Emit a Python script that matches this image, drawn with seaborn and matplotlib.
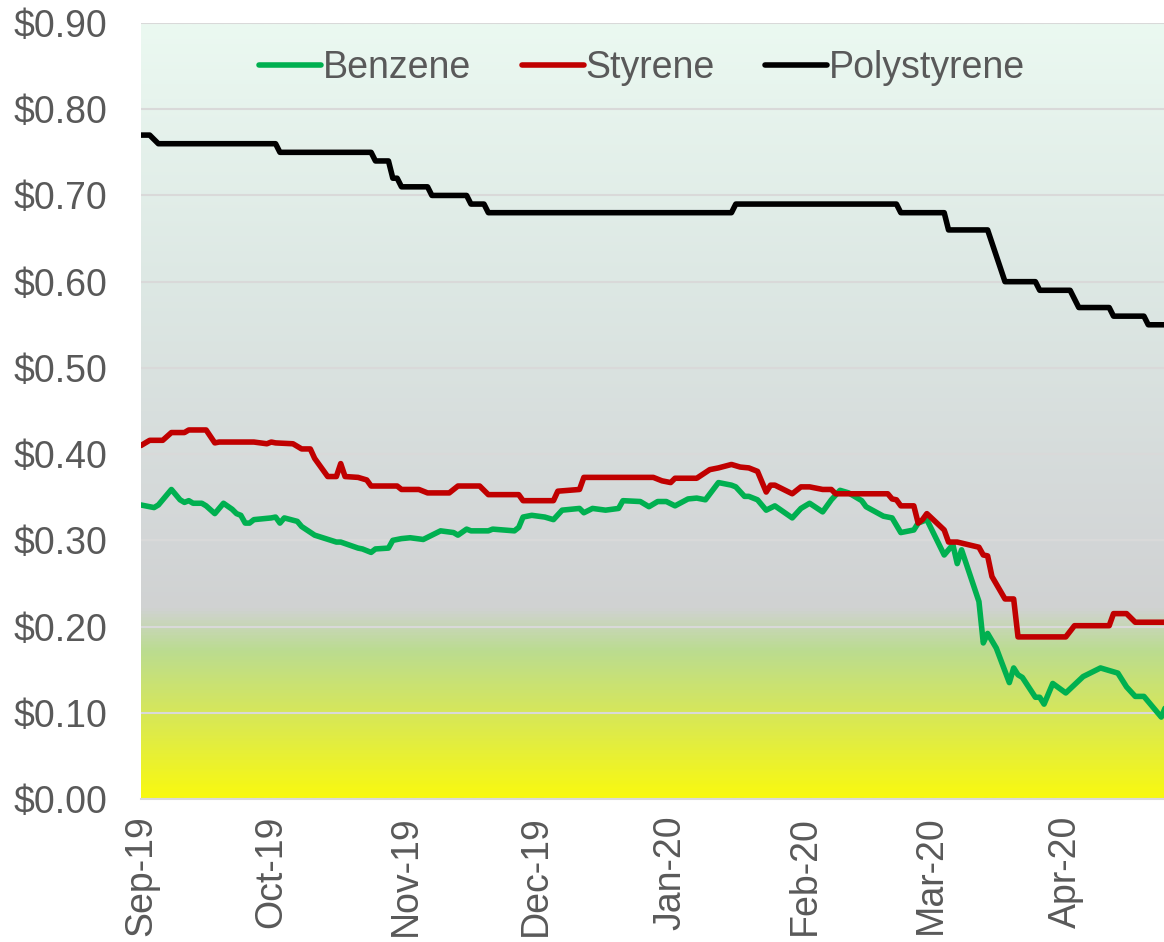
import numpy as np
import pandas as pd
import seaborn as sns
import matplotlib.pyplot as plt
import matplotlib.dates as mdates
from matplotlib.colors import LinearSegmentedColormap
from matplotlib.ticker import FuncFormatter

# Benzene ($/lb)
benzene_dates = ['2019-09-01', '2019-09-04', '2019-09-05', '2019-09-08', '2019-09-10', '2019-09-11',
                 '2019-09-12', '2019-09-13', '2019-09-15', '2019-09-16', '2019-09-18', '2019-09-20',
                 '2019-09-22', '2019-09-23', '2019-09-24', '2019-09-25', '2019-09-26', '2019-09-27',
                 '2019-10-01', '2019-10-02', '2019-10-03', '2019-10-04', '2019-10-07', '2019-10-08',
                 '2019-10-11', '2019-10-16', '2019-10-17', '2019-10-21', '2019-10-22', '2019-10-24',
                 '2019-10-25', '2019-10-28', '2019-10-29', '2019-10-31', '2019-11-02', '2019-11-05',
                 '2019-11-09', '2019-11-12', '2019-11-13', '2019-11-15', '2019-11-16', '2019-11-20',
                 '2019-11-21', '2019-11-26', '2019-11-27', '2019-11-28', '2019-11-30', '2019-12-03',
                 '2019-12-05', '2019-12-07', '2019-12-11', '2019-12-12', '2019-12-14', '2019-12-17',
                 '2019-12-20', '2019-12-21', '2019-12-25', '2019-12-27', '2019-12-29', '2019-12-31',
                 '2020-01-02', '2020-01-05', '2020-01-07', '2020-01-09', '2020-01-12', '2020-01-15',
                 '2020-01-16', '2020-01-18', '2020-01-19', '2020-01-21', '2020-01-23', '2020-01-25',
                 '2020-01-29', '2020-01-31', '2020-02-02', '2020-02-05', '2020-02-07', '2020-02-09',
                 '2020-02-11', '2020-02-14', '2020-02-15', '2020-02-19', '2020-02-21', '2020-02-23',
                 '2020-02-26', '2020-02-27', '2020-02-29', '2020-03-04', '2020-03-06', '2020-03-07',
                 '2020-03-08', '2020-03-12', '2020-03-13', '2020-03-14', '2020-03-16', '2020-03-19',
                 '2020-03-20', '2020-03-21', '2020-03-22', '2020-03-25', '2020-03-26', '2020-03-27',
                 '2020-03-29', '2020-04-01', '2020-04-05', '2020-04-09', '2020-04-13', '2020-04-15',
                 '2020-04-17', '2020-04-19', '2020-04-23', '2020-04-24']
benzene = [0.341, 0.338, 0.341, 0.359, 0.347, 0.344,
           0.346, 0.343, 0.343, 0.340, 0.331, 0.343,
           0.336, 0.331, 0.329, 0.320, 0.320, 0.324,
           0.326, 0.327, 0.320, 0.326, 0.322, 0.316,
           0.306, 0.298, 0.298, 0.291, 0.290, 0.286,
           0.290, 0.291, 0.300, 0.302, 0.303, 0.301,
           0.311, 0.309, 0.306, 0.313, 0.311, 0.311,
           0.313, 0.311, 0.315, 0.327, 0.329, 0.327,
           0.324, 0.335, 0.337, 0.332, 0.337, 0.335,
           0.337, 0.346, 0.345, 0.339, 0.345, 0.345,
           0.340, 0.348, 0.349, 0.347, 0.367, 0.364,
           0.362, 0.351, 0.351, 0.347, 0.335, 0.340,
           0.326, 0.337, 0.343, 0.333, 0.347, 0.358,
           0.355, 0.346, 0.339, 0.328, 0.326, 0.309,
           0.312, 0.320, 0.324, 0.283, 0.295, 0.273,
           0.289, 0.229, 0.181, 0.192, 0.175, 0.135,
           0.152, 0.144, 0.141, 0.118, 0.118, 0.110,
           0.134, 0.123, 0.142, 0.152, 0.146, 0.130,
           0.119, 0.119, 0.095, 0.107]

# Styrene
styrene_dates = ['2019-09-01', '2019-09-03', '2019-09-06', '2019-09-08', '2019-09-11', '2019-09-12',
                 '2019-09-16', '2019-09-18', '2019-09-19', '2019-09-27', '2019-09-30', '2019-10-01',
                 '2019-10-02', '2019-10-06', '2019-10-08', '2019-10-10', '2019-10-11', '2019-10-14',
                 '2019-10-16', '2019-10-17', '2019-10-18', '2019-10-21', '2019-10-23', '2019-10-24',
                 '2019-10-30', '2019-10-31', '2019-11-04', '2019-11-06', '2019-11-11', '2019-11-13',
                 '2019-11-18', '2019-11-20', '2019-11-27', '2019-11-28', '2019-12-05', '2019-12-06',
                 '2019-12-11', '2019-12-12', '2019-12-28', '2019-12-30', '2020-01-01', '2020-01-02',
                 '2020-01-07', '2020-01-10', '2020-01-12', '2020-01-15', '2020-01-17', '2020-01-19',
                 '2020-01-21', '2020-01-23', '2020-01-24', '2020-01-25', '2020-01-29', '2020-01-31',
                 '2020-02-02', '2020-02-05', '2020-02-07', '2020-02-08', '2020-02-20', '2020-02-21',
                 '2020-02-22', '2020-02-23', '2020-02-26', '2020-02-27', '2020-02-28', '2020-02-29',
                 '2020-03-04', '2020-03-05', '2020-03-07', '2020-03-12', '2020-03-13', '2020-03-14',
                 '2020-03-15', '2020-03-18', '2020-03-20', '2020-03-21', '2020-04-01', '2020-04-03',
                 '2020-04-11', '2020-04-12', '2020-04-15', '2020-04-17', '2020-04-24']
styrene = [0.410, 0.416, 0.416, 0.425, 0.425, 0.428,
           0.428, 0.413, 0.414, 0.414, 0.412, 0.414,
           0.413, 0.412, 0.406, 0.406, 0.395, 0.374,
           0.374, 0.389, 0.374, 0.373, 0.370, 0.363,
           0.363, 0.359, 0.359, 0.355, 0.355, 0.363,
           0.363, 0.353, 0.353, 0.346, 0.346, 0.357,
           0.359, 0.373, 0.373, 0.369, 0.367, 0.372,
           0.372, 0.382, 0.384, 0.388, 0.385, 0.384,
           0.380, 0.356, 0.364, 0.364, 0.354, 0.362,
           0.362, 0.359, 0.359, 0.354, 0.354, 0.348,
           0.347, 0.340, 0.340, 0.320, 0.324, 0.331,
           0.312, 0.298, 0.298, 0.292, 0.283, 0.282,
           0.258, 0.232, 0.232, 0.188, 0.188, 0.201,
           0.201, 0.215, 0.215, 0.205, 0.205]

# Polystyrene
poly_dates = ['2019-09-01', '2019-09-03', '2019-09-05', '2019-10-02', '2019-10-03', '2019-10-24',
              '2019-10-25', '2019-10-28', '2019-10-29', '2019-10-30', '2019-10-31', '2019-11-06',
              '2019-11-07', '2019-11-15', '2019-11-16', '2019-11-19', '2019-11-20', '2020-01-15',
              '2020-01-16', '2020-02-22', '2020-02-23', '2020-03-04', '2020-03-05', '2020-03-14',
              '2020-03-18', '2020-03-25', '2020-03-26', '2020-04-02', '2020-04-04', '2020-04-11',
              '2020-04-12', '2020-04-19', '2020-04-20', '2020-04-24']
polystyrene = [0.77, 0.77, 0.76, 0.76, 0.75, 0.75,
               0.74, 0.74, 0.72, 0.72, 0.71, 0.71,
               0.70, 0.70, 0.69, 0.69, 0.68, 0.68,
               0.69, 0.69, 0.68, 0.68, 0.66, 0.66,
               0.60, 0.60, 0.59, 0.59, 0.57, 0.57,
               0.56, 0.56, 0.55, 0.55]

names = ['Benzene', 'Styrene', 'Polystyrene']
colors = ['#00B050', '#C00000', '#000000']

df = pd.concat([
    pd.DataFrame({'date': pd.to_datetime(d), 'price': v, 'product': n})
    for d, v, n in [(benzene_dates, benzene, 'Benzene'),
                    (styrene_dates, styrene, 'Styrene'),
                    (poly_dates, polystyrene, 'Polystyrene')]
])

sns.set_style('white')
plt.rcParams['font.family'] = ['Liberation Sans', 'DejaVu Sans']

W, H = 1164, 942
fig = plt.figure(figsize=(W / 100, H / 100), dpi=100)
pos = [141 / W, 1 - 799 / H, (1164 - 141) / W, (799 - 23) / H]

# gradient fill behind the plot area (bottom yellow -> grey -> pale mint top)
grad = LinearSegmentedColormap.from_list('bg', [
    (0.0, '#F9F90F'),
    (0.11, '#D6E75A'),
    (0.19, '#BBDC90'),
    (0.245, '#D0D2D2'),
    (0.33, '#D3D6D7'),
    (0.667, '#DDE8E4'),
    (1.0, '#EBF9F1'),
])
bg = fig.add_axes(pos, zorder=0)
bg.imshow(np.linspace(0, 1, 512).reshape(-1, 1), cmap=grad, origin='lower',
          aspect='auto', extent=[0, 1, 0, 1])
bg.axis('off')

ax = fig.add_axes(pos, zorder=1)
ax.set_facecolor('none')
sns.lineplot(data=df, x='date', y='price', hue='product', hue_order=names,
             palette=colors, estimator=None, linewidth=4, ax=ax)

ax.set_ylim(0, 0.9)
ax.set_yticks(np.arange(0, 0.91, 0.1))
ax.yaxis.set_major_formatter(FuncFormatter(lambda v, p: f'${v:.2f}'))
ax.set_xlim(pd.Timestamp('2019-09-01'), pd.Timestamp('2020-04-23 15:00'))
ax.xaxis.set_major_locator(mdates.MonthLocator())
ax.xaxis.set_major_formatter(mdates.DateFormatter('%b-%y'))
ax.grid(axis='y', color='#D9D9D9', linewidth=1.5)
ax.set_axisbelow(True)

for s in ['top', 'right', 'left']:
    ax.spines[s].set_visible(False)
ax.spines['bottom'].set_color('#D9D9D9')
ax.spines['bottom'].set_linewidth(1.5)

ax.tick_params(axis='y', length=0, pad=24, labelsize=27, labelcolor='#595959')
ax.tick_params(axis='x', length=8, width=1.5, color='#D9D9D9', direction='out',
               pad=4, labelsize=27, labelcolor='#595959', labelrotation=90)
ax.set_xlabel('')
ax.set_ylabel('')

ax.legend(loc='center', bbox_to_anchor=(0.49, 0.942), ncol=3, frameon=False,
          fontsize=27, labelcolor='#595959', handlelength=1.65, handletextpad=0.05,
          columnspacing=1.35)

fig.savefig('out.png', dpi=100)
